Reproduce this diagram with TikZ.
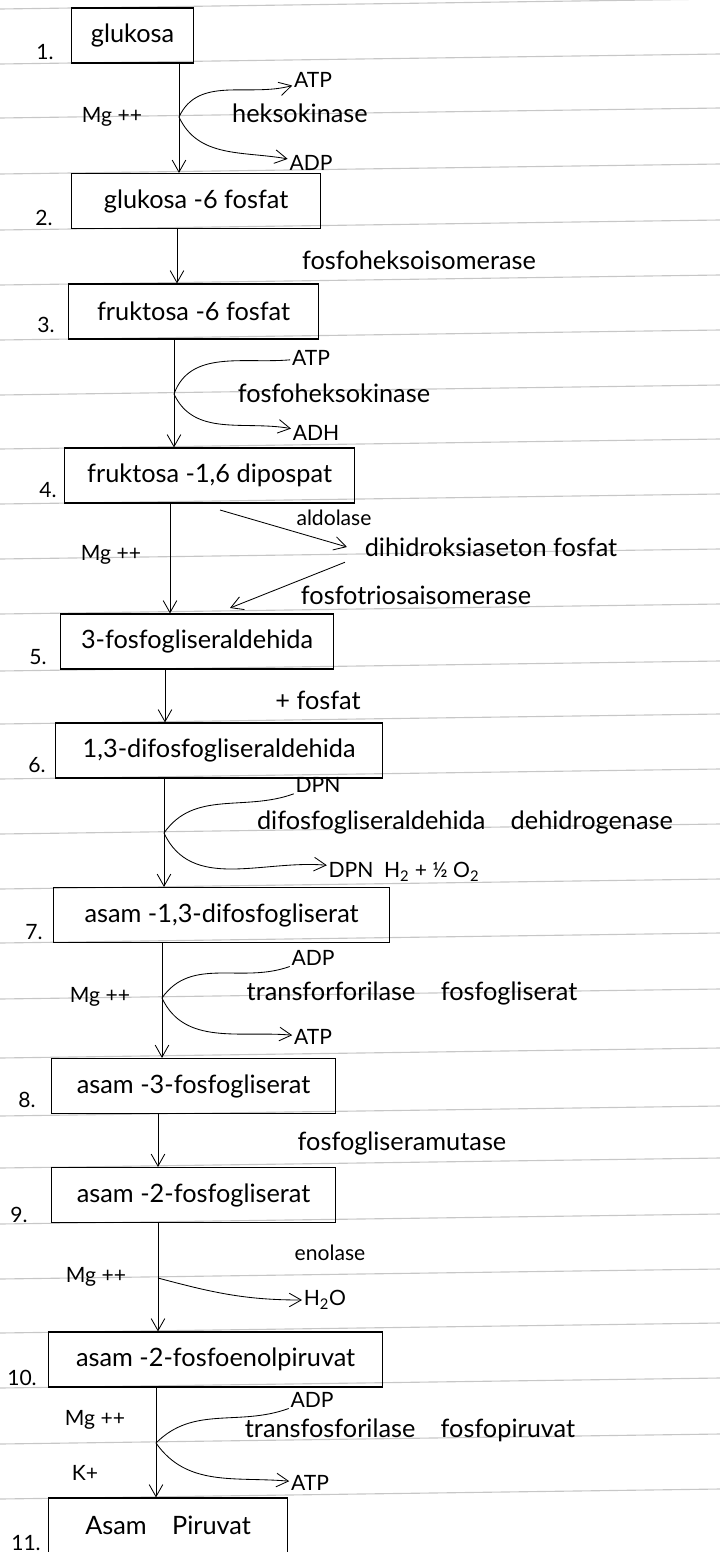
\documentclass[tikz,border=0pt]{standalone}
\usepackage{fontspec}
\setmainfont{Lato}
\usetikzlibrary{arrows,arrows.meta}

\begin{document}
\begin{tikzpicture}[x=0.025cm,y=-0.025cm,>={Straight Barb[length=3mm,width=3.4mm]},semithick,
  box/.style={draw,thick,anchor=west,minimum height=1.375cm,inner xsep=3pt,font=\fontsize{18}{20}\selectfont},
  lbl/.style={inner sep=1pt,font=\fontsize{18}{20}\selectfont},
  small lbl/.style={inner sep=1pt,font=\fontsize{15}{17}\selectfont},
  num/.style={inner sep=1pt,font=\fontsize{15}{17}\selectfont},
  rule/.style={black!22,line width=0.8pt}]

  \useasboundingbox (0,0) rectangle (720,1552);
  \foreach \y in {8,63,117,173,229,284,339,394,448,503,558,613,670,723,778,833,888,942,998,1057,1115,1167,1223,1278,1332,1387,1443,1498}
    \draw[rule] (0,\y+1) -- (720,\y-9);

  \node[box,minimum width=3.05cm]  (g1)  at (71,35.5)   {glukosa};
  \node[box,minimum width=6.225cm] (g2)  at (71,201)    {glukosa -6 fosfat};
  \node[box,minimum width=6.25cm]  (g3)  at (68,311.5)  {fruktosa -6 fosfat};
  \node[box,minimum width=7.25cm]  (g4)  at (64,475.5)  {fruktosa -1,6 dipospat};
  \node[box,minimum width=6.825cm] (g5)  at (60,641.5)  {3-fosfogliseraldehida};
  \node[box,minimum width=8.175cm] (g6)  at (55,750.5)  {1,3-difosfogliseraldehida};
  \node[box,minimum width=8.4cm]   (g7)  at (53,915)    {asam -1,3-difosfogliserat};
  \node[box,minimum width=7.1cm]   (g8)  at (51,1086)   {asam -3-fosfogliserat};
  \node[box,minimum width=7.1cm]   (g9)  at (51,1195)   {asam -2-fosfogliserat};
  \node[box,minimum width=8.35cm]  (g10) at (48,1359.5) {asam -2-fosfoenolpiruvat};
  \node[box,minimum width=5.975cm] (g11) at (48,1525.5) {Asam\quad Piruvat};

  \node[num] (n1)  at (45,52)   {1.};
  \node[num] (n2)  at (44,218)  {2.};
  \node[num] (n3)  at (46,325)  {3.};
  \node[num] (n4)  at (48,490)  {4.};
  \node[num] (n5)  at (38,657)  {5.};
  \node[num] (n6)  at (37,765)  {6.};
  \node[num] (n7)  at (34,932)  {7.};
  \node[num] (n8)  at (27,1100) {8.};
  \node[num] (n9)  at (19,1215) {9.};
  \node[num] (n10) at (22,1378) {10.};
  \node[num] (n11) at (26,1543) {11.};

  \coordinate (s1)  at (179,117);
  \coordinate (s2)  at (177,256);
  \coordinate (s3)  at (174,394);
  \coordinate (s4)  at (170,558);
  \coordinate (s5)  at (165,697);
  \coordinate (s6)  at (164,833);
  \coordinate (s7)  at (162,998);
  \coordinate (s8)  at (158,1141);
  \coordinate (s9)  at (158,1278);
  \coordinate (s10) at (156,1443);

  \foreach \i/\j in {1/2,2/3,3/4,4/5,5/6,6/7,7/8,8/9,9/10,10/11}
    \draw[->] (g\i.south -| s\i) -- (g\j.north -| s\i);

  \node[small lbl] (mg1)  at (112,117) {Mg ++};
  \node[small lbl] (atp1) at (313,80)  {ATP};
  \node[lbl]       (hk1)  at (300,113) {heksokinase};
  \node[small lbl] (adp1) at (311,163) {ADP};

  \node[lbl] (fhi2) at (419,260) {fosfoheksoisomerase};

  \node[small lbl] (atp3) at (311,358) {ATP};
  \node[lbl]       (fhk3) at (334,393) {fosfoheksokinase};
  \node[small lbl] (adh3) at (316,433) {ADH};

  \node[small lbl] (ald4)  at (334,518) {aldolase};
  \node[small lbl] (mg4)   at (111,555) {Mg ++};
  \node[lbl]       (dhap4) at (491,547) {dihidroksiaseton fosfat};
  \node[lbl]       (fti4)  at (416,595) {fosfotriosaisomerase};
  \coordinate (a4) at (220,510);
  \coordinate (t4) at (230,608);

  \node[lbl] (fos5) at (318,700) {+ fosfat};

  \node[small lbl] (dpn6) at (318,785) {DPN};
  \node[lbl]       (dh6)  at (465,822) {difosfogliseraldehida\quad dehidrogenase};
  \node[small lbl] (dpnh6) at (404,872) {DPN\enspace H\textsubscript{2} + ½ O\textsubscript{2}};

  \node[small lbl] (adp7) at (313,958)  {ADP};
  \node[small lbl] (mg7)  at (100,997)  {Mg ++};
  \node[lbl]       (tf7)  at (412,993)  {transforforilase\quad fosfogliserat};
  \node[small lbl] (atp7) at (313,1037) {ATP};

  \node[lbl] (fgm8) at (402,1143) {fosfogliseramutase};

  \node[small lbl] (eno9) at (330,1253) {enolase};
  \node[small lbl] (mg9)  at (96,1277)  {Mg ++};
  \node[small lbl] (h2o9) at (325,1300) {H\textsubscript{2}O};

  \node[small lbl] (adp10) at (312,1400) {ADP};
  \node[small lbl] (mg10)  at (95,1420)  {Mg ++};
  \node[lbl]       (tf10)  at (410,1430) {transfosforilase\quad fosfopiruvat};
  \node[small lbl] (k10)   at (85,1473)  {K+};
  \node[small lbl] (atp10) at (310,1483) {ATP};

  \path[->]
    (s1) edge [out=65,in=195] (atp1)
         edge [out=-65,in=170] (adp1)
    (s3) edge [-,out=70,in=185] (atp3)
         edge [out=-65,in=170] (adh3)
    (a4) edge ([xshift=-0.4cm]dhap4.west)
    ([shift={(-18,4)}]dhap4.south west) edge (t4)
    (s6) edge [-,out=55,in=200] (dpn6)
         edge [out=-65,in=175] (dpnh6)
    (s7) edge [-,out=55,in=200] (adp7)
         edge [out=-65,in=175] (atp7)
    (s9) edge [out=-15,in=180] (h2o9)
    (s10) edge [-,out=45,in=200] (adp10)
          edge [out=-55,in=175] (atp10);

\end{tikzpicture}
\end{document}
